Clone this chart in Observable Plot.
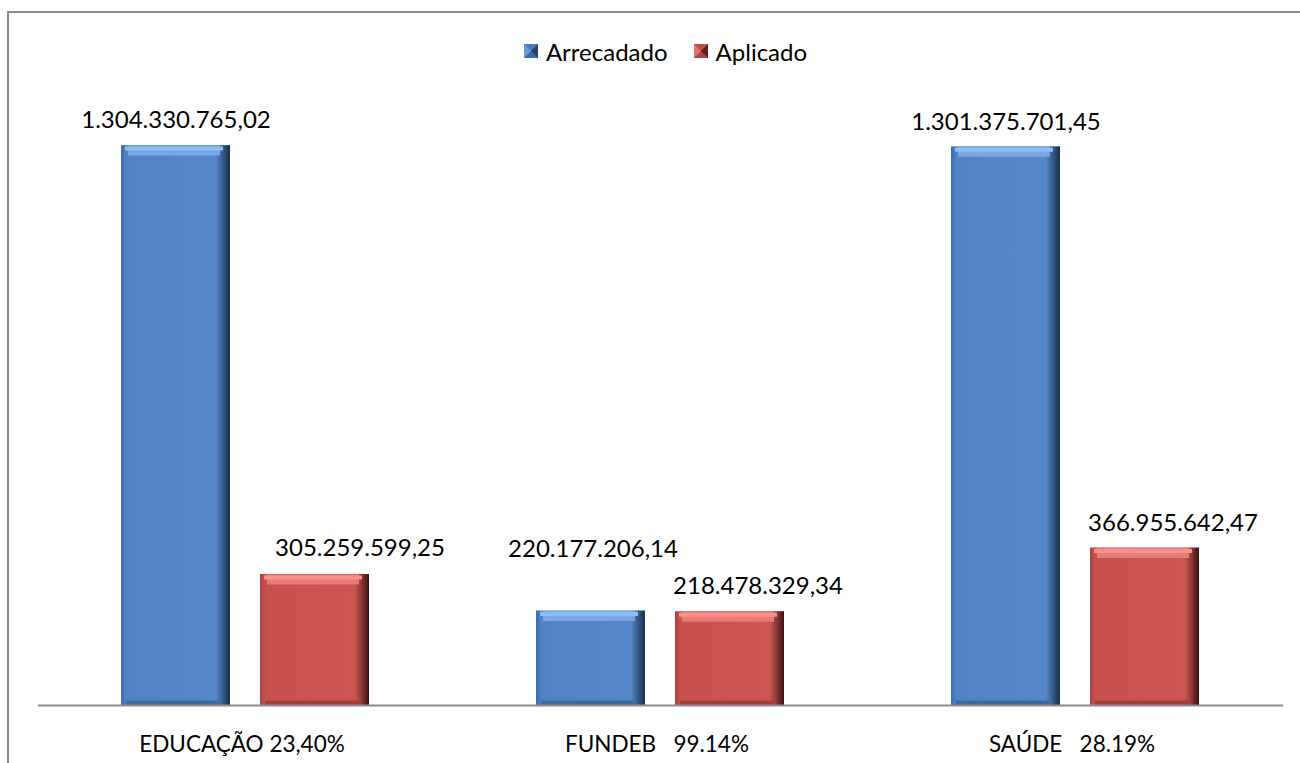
<!DOCTYPE html>
<html>
<head>
<meta charset="utf-8">
<script src="https://cdn.jsdelivr.net/npm/d3@7"></script>
<script src="https://cdn.jsdelivr.net/npm/@observablehq/plot@0.6"></script>
<style>
  html, body { margin: 0; padding: 0; background: #fff; overflow: hidden; }
  body { width: 1300px; height: 763px; position: relative; font-family: Lato, "Open Sans", sans-serif; }
  #frame { position: absolute; left: 7px; top: 11px; width: 1400px; height: 900px;
           border-left: 2px solid #898989; border-top: 2px solid #898989; pointer-events: none; }
  #legend { height: 80px; width: 1300px; box-sizing: border-box; padding-left: 31px; padding-top: 37px;
            display: flex; justify-content: center; align-items: flex-start; font-size: 24px; color: #000; }
  .item { display: flex; align-items: center; margin: 0 13px; height: 28px; }
  .sw { width: 0; height: 0; border-style: solid; border-width: 7px; margin-right: 8px; }
  svg text { white-space: pre; }
</style>
</head>
<body>
<div id="frame"></div>
<div id="legend"></div>
<div id="chart"></div>
<script>
// ---- data ----
const categories = ["EDUCAÇÃO 23,40%", "FUNDEB   99.14%", "SAÚDE   28.19%"];
const series = ["Arrecadado", "Aplicado"];
const arrecadado = [1304330765.02, 220177206.14, 1301375701.45];
const aplicado = [305259599.25, 218478329.34, 366955642.47];

// label nudges (dx, dy in px) per category, per series
const nudgeArrecadado = [[0, 0], [2, -37], [0, 0]];
const nudgeAplicado = [[45, -1], [28, 0], [28, 0]];

const ptBR = d3.formatLocale({ decimal: ",", thousands: ".", grouping: [3], currency: ["R$", ""] });
const fmt = ptBR.format(",.2f");

const rows = [];
categories.forEach((c, i) => {
  rows.push({ cat: c, series: "Arrecadado", value: arrecadado[i], nudge: nudgeArrecadado[i] });
  rows.push({ cat: c, series: "Aplicado", value: aplicado[i], nudge: nudgeAplicado[i] });
});

// ---- legend ----
const swStyles = {
  Arrecadado: { l: "#6E9BD6", t: "#4B7AB8", r: "#24446E", b: "#3E6AA3" },
  Aplicado: { l: "#E07471", t: "#C04B48", r: "#5E1F1E", b: "#A84442" }
};
const legend = document.getElementById("legend");
series.forEach(s => {
  const it = document.createElement("div");
  it.className = "item";
  const sw = document.createElement("div");
  sw.className = "sw";
  const st = swStyles[s];
  sw.style.borderColor = `${st.t} ${st.r} ${st.b} ${st.l}`;
  it.appendChild(sw);
  const tx = document.createElement("span");
  tx.textContent = s;
  it.appendChild(tx);
  legend.appendChild(it);
});

// ---- chart ----
const byS = s => rows.filter(d => d.series === s);
const barMarks = [];
series.forEach(s => {
  const key = s === "Arrecadado" ? "Blue" : "Red";
  const light = s === "Arrecadado" ? "#78A8E4" : "#EA7A77";
  const lighter = s === "Arrecadado" ? "#8FBCF2" : "#F7918E";
  const dark = s === "Arrecadado" ? "#3F6AA1" : "#A13F3D";
  barMarks.push(Plot.barY(byS(s), { fx: "cat", x: "series", y: "value", fill: `url(#grad${key})` }));
  barMarks.push(Plot.tickY(byS(s), { fx: "cat", x: "series", y: "value", stroke: light, strokeWidth: 10, dy: 5, insetLeft: 7, insetRight: 10 }));
  barMarks.push(Plot.tickY(byS(s), { fx: "cat", x: "series", y: "value", stroke: lighter, strokeWidth: 4, dy: 3, insetLeft: 4, insetRight: 7 }));
  barMarks.push(Plot.tickY(byS(s), { fx: "cat", x: "series", y: () => 0, stroke: dark, strokeWidth: 5, dy: -2.5, insetLeft: 5, insetRight: 8 }));
});

const labelMarks = rows.map(d =>
  Plot.text([d], {
    fx: "cat", x: "series", y: "value", text: r => fmt(r.value),
    lineAnchor: "middle", dy: -25 + d.nudge[1], dx: d.nudge[0],
    fontSize: 24, fill: "#000"
  })
);

const chart = Plot.plot({
  width: 1300,
  height: 683,
  marginLeft: 37,
  marginRight: 17,
  marginTop: 24,
  marginBottom: 58,
  style: { fontFamily: "Lato, 'Open Sans', sans-serif", background: "transparent", overflow: "visible" },
  fx: { domain: categories, padding: 0, label: null },
  x: { domain: series, paddingInner: 30 / 140, paddingOuter: 0.59, axis: null },
  y: { domain: [0, 1.4e9], axis: null },
  marks: [
    ...barMarks,
    Plot.ruleY([0], { stroke: "#8C8C8C", strokeWidth: 2 }),
    ...labelMarks,
    Plot.axisFx({ anchor: "bottom", tickSize: 0, tickPadding: 31, dx: -4, fontSize: 22.5, label: null, fill: "#000" })
  ]
});

const defs = document.createElementNS("http://www.w3.org/2000/svg", "defs");
defs.innerHTML = `
  <linearGradient id="gradBlue" x1="0" y1="0" x2="1" y2="0">
    <stop offset="0" stop-color="#3F6DA8"/>
    <stop offset="0.05" stop-color="#5283C4"/>
    <stop offset="0.87" stop-color="#5687C8"/>
    <stop offset="0.92" stop-color="#3C6598"/>
    <stop offset="1" stop-color="#1A2E48"/>
  </linearGradient>
  <linearGradient id="gradRed" x1="0" y1="0" x2="1" y2="0">
    <stop offset="0" stop-color="#A84442"/>
    <stop offset="0.05" stop-color="#C8514E"/>
    <stop offset="0.87" stop-color="#CC5451"/>
    <stop offset="0.92" stop-color="#993D3B"/>
    <stop offset="1" stop-color="#3E1211"/>
  </linearGradient>`;
chart.insertBefore(defs, chart.firstChild);
document.getElementById("chart").appendChild(chart);
</script>
</body>
</html>
